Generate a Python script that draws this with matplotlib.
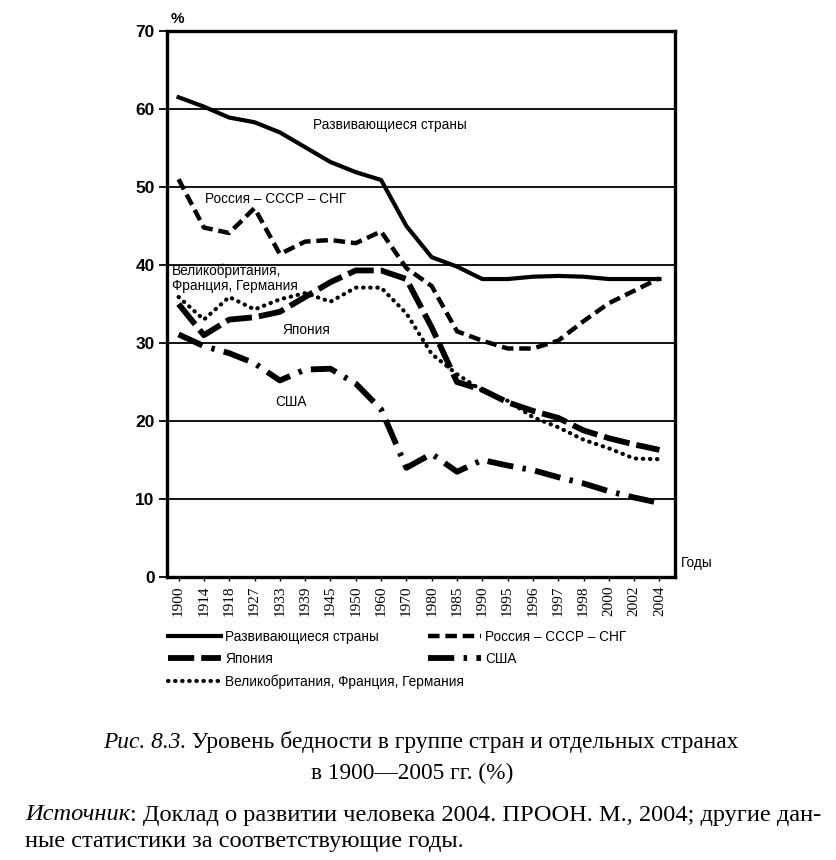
import matplotlib
matplotlib.use("Agg")
import numpy as np
import matplotlib.pyplot as plt

sans = 'Liberation Sans'
serif = 'Liberation Serif'

years = ['1900', '1914', '1918', '1927', '1933', '1939', '1945', '1950', '1960', '1970',
         '1980', '1985', '1990', '1995', '1996', '1997', '1998', '2000', '2002', '2004']

developing = [61.5, 60.3, 58.9, 58.3, 57.0, 55.1, 53.2, 51.9, 50.9, 45.0,
              41.0, 39.8, 38.2, 38.2, 38.5, 38.6, 38.5, 38.2, 38.2, 38.2]
russia = [51.0, 44.8, 44.1, 47.3, 41.4, 43.0, 43.2, 42.8, 44.3, 39.6,
          37.3, 31.5, 30.3, 29.3, 29.3, 30.3, 32.8, 35.1, 36.7, 38.3]
japan = [35.0, 31.0, 33.0, 33.3, 34.0, 35.9, 37.8, 39.3, 39.3, 38.2,
         32.0, 25.0, 24.0, 22.4, 21.3, 20.4, 18.8, 17.8, 17.0, 16.3]
ukfrde = [35.9, 33.0, 35.9, 34.3, 35.6, 36.4, 35.3, 37.1, 37.1, 33.8,
          28.6, 26.0, 23.9, 22.6, 20.5, 19.2, 17.6, 16.5, 15.2, 15.1]
usa = [31.1, 29.6, 28.7, 27.4, 25.2, 26.6, 26.7, 24.8, 21.5, 14.0,
       15.8, 13.5, 15.0, 14.3, 13.7, 12.8, 12.0, 11.0, 10.2, 9.5]

labels = ['Развивающиеся страны', 'Россия – СССР – СНГ', 'Япония', 'США',
          'Великобритания, Франция, Германия']

x = np.arange(len(years))

fig = plt.figure(figsize=(8.36, 8.6), dpi=100)
ax = fig.add_axes([0.2, 0.329, 0.607, 0.635])

ax.set_ylim(0, 70)
ax.set_xlim(-0.45, 19.6)
for v in range(10, 70, 10):
    ax.axhline(v, color='black', lw=1.3, zorder=1)

l_dev, = ax.plot(x, developing, color='black', lw=3.0, solid_joinstyle='round', zorder=3)
l_rus, = ax.plot(x, russia, color='black', lw=3.2, linestyle=(0, (2.6, 1.3)), zorder=3)
l_jap, = ax.plot(x, japan, color='black', lw=4.2, linestyle=(0, (4.5, 1.2)), zorder=3)
l_uk, = ax.plot(x, ukfrde, color='black', lw=3.0, linestyle=(0, (0.1, 1.6)),
                dash_capstyle='round', zorder=3)
l_usa, = ax.plot(x, usa, color='black', lw=4.2, linestyle=(0, (4.5, 1.6, 0.6, 1.6)), zorder=3)

for s in ax.spines.values():
    s.set_linewidth(2.4)

ax.set_yticks(range(0, 71, 10))
ax.set_yticklabels([str(v) for v in range(0, 71, 10)], fontfamily=sans,
                   fontweight='bold', fontsize=12.5)
ax.set_xticks(x)
ax.set_xticklabels(years, rotation=90, fontfamily=serif, fontsize=11)
ax.tick_params(axis='y', length=6, width=1.3, pad=3)
ax.tick_params(axis='x', length=3, width=1.0, pad=3)

fs = 9.8
tkw = dict(fontfamily=sans, fontsize=fs, color='black', zorder=4)
ax.text(5.3, 58.0, 'Развивающиеся страны', ha='left', va='center', **tkw)
ax.text(1.05, 48.4, 'Россия – СССР – СНГ', ha='left', va='center', **tkw)
ax.text(-0.25, 38.3, 'Великобритания,\nФранция, Германия', ha='left', va='center',
        linespacing=1.15, **tkw)
ax.text(4.1, 31.7, 'Япония', ha='left', va='center', **tkw)
ax.text(3.8, 22.4, 'США', ha='left', va='center', **tkw)
ax.text(-0.3, 71.5, '%', ha='left', va='center', fontfamily=sans,
        fontweight='bold', fontsize=11, clip_on=False)
ax.text(19.85, 1.8, 'Годы', ha='left', va='center', fontfamily=sans, fontsize=fs,
        clip_on=False)

# legend: first column of three, second column of two
lkw = dict(frameon=False, handlelength=3.9, handletextpad=0.3, borderpad=0, borderaxespad=0,
           labelspacing=0.6, prop={'family': sans, 'size': fs})
leg1 = fig.legend([l_dev, l_jap, l_uk], [labels[0], labels[2], labels[4]],
                  loc='upper left', bbox_to_anchor=(168 / 836, 1 - 630 / 860), **lkw)
leg2 = fig.legend([l_rus, l_usa], [labels[1], labels[3]],
                  loc='upper left', bbox_to_anchor=(428 / 836, 1 - 630 / 860), **lkw)

# caption
cs = 16.8
t1 = fig.text(103 / 836, 1 - 742 / 860, 'Рис. 8.3.', fontfamily=serif, style='italic',
              fontsize=cs, va='center', ha='left')
ax.annotate(' Уровень бедности в группе стран и отдельных странах', xy=(1, 0.5),
            xycoords=t1, va='center', ha='left', fontfamily=serif, fontsize=cs,
            annotation_clip=False)
fig.text(412 / 836, 1 - 773 / 860, 'в 1900—2005 гг. (%)', fontfamily=serif, fontsize=cs,
         va='center', ha='center')

ss = 17.6
t2 = fig.text(25 / 836, 1 - 815 / 860, 'Источник', fontfamily=serif, style='italic',
              fontsize=ss, va='center', ha='left')
ax.annotate(': Доклад о развитии человека 2004. ПРООН. М., 2004; другие дан-', xy=(1, 0.5),
            xycoords=t2, va='center', ha='left', fontfamily=serif, fontsize=ss,
            annotation_clip=False)
fig.text(25 / 836, 1 - 841 / 860, 'ные статистики за соответствующие годы.', fontfamily=serif,
         fontsize=ss, va='center', ha='left')

fig.savefig('out.png', dpi=100, facecolor='white')
